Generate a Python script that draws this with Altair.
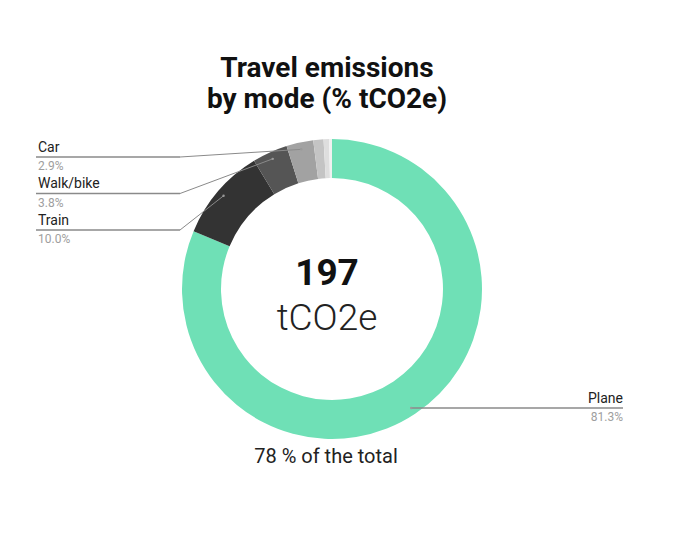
import altair as alt
import pandas as pd

# ---------------- data ----------------
modes = ["Plane", "Train", "Walk/bike", "Car", "Bus", "Ferry", "Other"]
shares = [81.3, 10.0, 3.8, 2.9, 1.1, 0.6, 0.3]
colors = ["#6fe0b6", "#333333", "#555555", "#a2a2a2", "#c4c4c4", "#dedede", "#f0f0f0"]
left_labels = ["Car", "Walk/bike", "Train"]      # top to bottom
right_labels = ["Plane"]
title_lines = ["Travel emissions", "by mode (% tCO2e)"]
center_value = "197"
center_unit = "tCO2e"
footnote = "78 % of the total"

# ---------------- layout ----------------
W, H = 664, 539
CX, CY = 324, 281
R_OUT, R_IN, R_DOT = 150, 111, 143
LEFT_X, ELBOW_X, RIGHT_X = 28, 172, 615
LEFT_Y0, LEFT_DY = 149, 36.5
FONT = "Roboto"

df = pd.DataFrame({"mode": modes, "share": shares, "order": list(range(len(modes)))})
df["side"] = [("left" if m in left_labels else ("right" if m in right_labels else None)) for m in modes]
df["slot"] = [(left_labels.index(m) if m in left_labels else 0) for m in modes]

base = alt.Chart(df)

arc = base.mark_arc(outerRadius=R_OUT, innerRadius=R_IN).encode(
    theta=alt.Theta("share:Q", stack=True),
    order=alt.Order("order:Q"),
    color=alt.Color("mode:N", scale=alt.Scale(domain=modes, range=colors), legend=None),
    x=alt.value(CX),
    y=alt.value(CY),
)

lead = base.transform_window(
    cum="sum(share)", sort=[alt.SortField("order")], frame=[None, 0]
).transform_joinaggregate(
    total="sum(share)"
).transform_calculate(
    mid="2*PI*(datum.cum - datum.share/2)/datum.total"
).transform_calculate(
    dx=f"{CX} + {R_DOT}*sin(datum.mid)",
    dy=f"{CY} - {R_DOT}*cos(datum.mid)",
).transform_filter(
    "datum.side != null"
).transform_calculate(
    ly=f"datum.side == 'left' ? {LEFT_Y0} + datum.slot*{LEFT_DY} : datum.dy",
    ex=f"datum.side == 'left' ? {ELBOW_X} : datum.dx",
    endx=f"datum.side == 'left' ? {LEFT_X} : {RIGHT_X}",
    pct="format(datum.share, '.1f') + '%'",
).transform_calculate(
    ny="datum.ly - 5.5",
    py="datum.ly + 13",
    tx=f"datum.side == 'left' ? {LEFT_X + 2} : {RIGHT_X}",
)

diag = lead.mark_rule(color="#8a8a8a", strokeWidth=1).encode(
    x=alt.X("dx:Q", scale=None), y=alt.Y("dy:Q", scale=None),
    x2="ex:Q", y2="ly:Q",
)
horiz = lead.mark_rule(color="#8a8a8a", strokeWidth=1.3).encode(
    x=alt.X("ex:Q", scale=None), x2="endx:Q", y=alt.Y("ly:Q", scale=None),
)
dots = lead.mark_circle(size=6, color="#9a9a9a", opacity=1).encode(
    x=alt.X("dx:Q", scale=None), y=alt.Y("dy:Q", scale=None),
)

def label_layers(side, align):
    sub = lead.transform_filter(f"datum.side == '{side}'")
    name = sub.mark_text(align=align, baseline="alphabetic", font=FONT, fontSize=14,
                         color="#222222").encode(
        x=alt.X("tx:Q", scale=None), y=alt.Y("ny:Q", scale=None), text="mode:N")
    pct = sub.mark_text(align=align, baseline="alphabetic", font=FONT, fontSize=12,
                        color="#9e9e9e").encode(
        x=alt.X("tx:Q", scale=None), y=alt.Y("py:Q", scale=None), text="pct:N")
    return name + pct

title_df = pd.DataFrame({"t": title_lines, "i": list(range(len(title_lines)))})
title = alt.Chart(title_df).transform_calculate(ty="69 + datum.i*31").mark_text(
    align="center", baseline="alphabetic", font=FONT, fontSize=28, fontWeight="bold",
    color="#111111").encode(x=alt.value(319), y=alt.Y("ty:Q", scale=None), text="t:N")

one = alt.Chart(pd.DataFrame({"k": [0]}))
value_txt = one.mark_text(align="center", baseline="alphabetic", font=FONT, fontSize=37,
                          fontWeight="bold", color="#111111").encode(
    x=alt.value(319), y=alt.value(277), text=alt.value(center_value))
unit_txt = one.mark_text(align="center", baseline="alphabetic", font=FONT, fontSize=37,
                         fontWeight=300, color="#222222").encode(
    x=alt.value(319), y=alt.value(322), text=alt.value(center_unit))
foot_txt = one.mark_text(align="center", baseline="alphabetic", font=FONT, fontSize=20,
                         fontWeight="normal", color="#222222").encode(
    x=alt.value(318), y=alt.value(455), text=alt.value(footnote))

chart = alt.layer(
    arc, diag, horiz, dots,
    label_layers("left", "left"), label_layers("right", "right"),
    title, value_txt, unit_txt, foot_txt,
).properties(
    width=W, height=H, padding=0, autosize=alt.AutoSizeParams(type="none")
).configure(background="white", view=alt.ViewConfig(stroke=None))

chart.save("out.html", embed_options={"renderer": "svg", "actions": False})
